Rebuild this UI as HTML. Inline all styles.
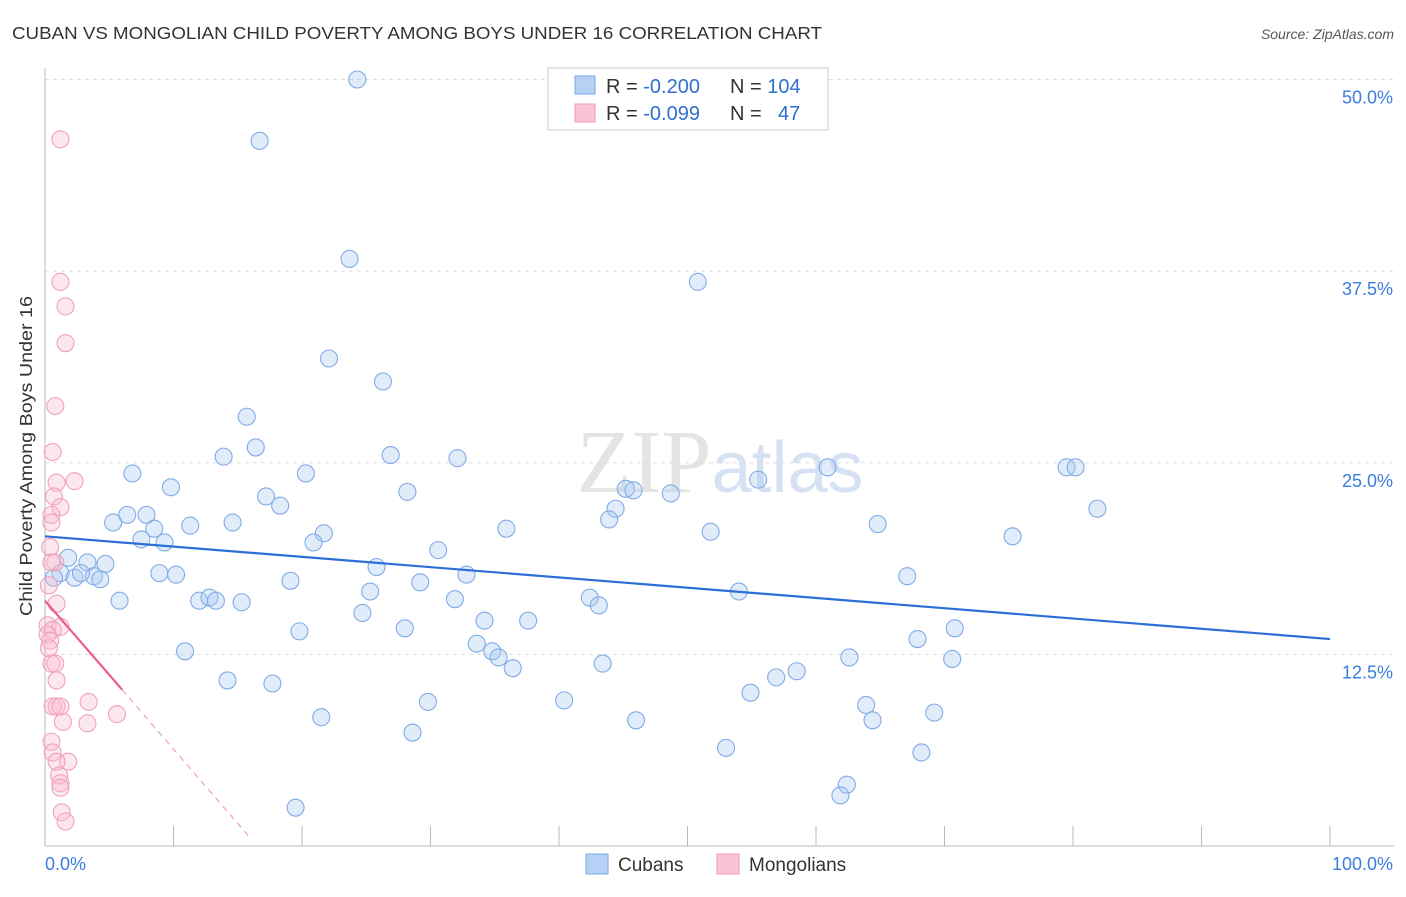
<!DOCTYPE html>
<html><head><meta charset="utf-8"><style>
body{margin:0;background:#fff;font-family:"Liberation Sans",sans-serif;}
</style></head><body>
<svg width="1406" height="892" xmlns="http://www.w3.org/2000/svg" style="font-family:'Liberation Sans',sans-serif">
<text x="12" y="39" font-size="17.5" fill="#333" textLength="810" lengthAdjust="spacingAndGlyphs">CUBAN VS MONGOLIAN CHILD POVERTY AMONG BOYS UNDER 16 CORRELATION CHART</text>
<text x="1394" y="39" font-size="14" fill="#555" text-anchor="end" font-style="italic">Source: ZipAtlas.com</text>
<text x="720" y="492" font-size="90" fill="#e4e4e4" text-anchor="middle" font-family="Liberation Serif,serif">ZIP<tspan fill="#d6e2f4" font-family="Liberation Sans,sans-serif" font-size="72">atlas</tspan></text>
<g id="grid"></g>
<g id="axes"></g>
<g id="marks"></g>
<text x="32" y="456" font-size="17.5" fill="#333" text-anchor="middle" textLength="320" lengthAdjust="spacingAndGlyphs" transform="rotate(-90 32 456)">Child Poverty Among Boys Under 16</text>
<g>
<rect x="548" y="68" width="280" height="62" fill="#fff" stroke="#ccc"/>
<rect x="575" y="76" width="20" height="18" fill="#b7d1f5" stroke="#7aa8e6"/>
<rect x="575" y="104" width="20" height="18" fill="#f9c4d4" stroke="#ee9ab3"/>
<text x="606" y="93" font-size="20" fill="#333">R = <tspan fill="#2f6fd0">-0.200</tspan><tspan x="730">N = </tspan><tspan fill="#2f6fd0">104</tspan></text>
<text x="606" y="120" font-size="20" fill="#333">R = <tspan fill="#2f6fd0">-0.099</tspan><tspan x="730">N = </tspan><tspan x="778" fill="#2f6fd0">47</tspan></text>
</g>
<g>
<rect x="586" y="854" width="22" height="20" fill="#b7d1f5" stroke="#7aa8e6"/>
<text x="618" y="871" font-size="19" fill="#333">Cubans</text>
<rect x="717" y="854" width="22" height="20" fill="#f9c4d4" stroke="#ee9ab3"/>
<text x="749" y="871" font-size="19" fill="#333">Mongolians</text>
</g>
</svg>
<script>
const cubanX=[24.3,16.7,23.7,50.8,22.1,26.3,15.7,16.4,13.9,26.9,32.1,6.8,20.3,9.8,17.2,28.2,18.3,45.2,45.8,48.7,44.4,43.9,55.5,60.9,79.5,80.2,81.9,6.4,7.9,5.3,11.3,14.6,8.5,21.7,20.9,7.5,9.3,35.9,51.8,64.8,75.3,30.6,1.8,3.3,4.7,1.2,2.3,3.8,4.3,0.7,2.8,8.9,10.2,19.1,25.8,29.2,32.8,25.3,67.1,54.0,5.8,12.0,12.8,13.3,15.3,31.9,42.4,43.1,24.7,34.2,37.6,28.0,19.8,33.6,34.8,35.3,36.4,43.4,10.9,70.8,67.9,62.6,70.6,58.5,56.9,54.9,14.2,17.7,29.8,40.4,63.9,69.2,21.5,46.0,64.4,28.6,53.0,68.2,62.4,61.9,19.5];
const cubanY=[50.0,46.0,38.3,36.8,31.8,30.3,28.0,26.0,25.4,25.5,25.3,24.3,24.3,23.4,22.8,23.1,22.2,23.3,23.2,23.0,22.0,21.3,23.9,24.7,24.7,24.7,22.0,21.6,21.6,21.1,20.9,21.1,20.7,20.4,19.8,20.0,19.8,20.7,20.5,21.0,20.2,19.3,18.8,18.5,18.4,17.8,17.5,17.6,17.4,17.5,17.8,17.8,17.7,17.3,18.2,17.2,17.7,16.6,17.6,16.6,16.0,16.0,16.2,16.0,15.9,16.1,16.2,15.7,15.2,14.7,14.7,14.2,14.0,13.2,12.7,12.3,11.6,11.9,12.7,14.2,13.5,12.3,12.2,11.4,11.0,10.0,10.8,10.6,9.4,9.5,9.2,8.7,8.4,8.2,8.2,7.4,6.4,6.1,4.0,3.3,2.5];
const mongX=[1.2,1.2,1.6,1.6,0.8,0.6,0.9,2.3,0.7,1.2,0.5,0.5,0.4,0.8,0.5,0.3,0.9,0.2,1.2,0.6,0.2,0.4,0.3,0.5,0.8,0.9,3.4,5.6,0.6,0.9,1.2,1.4,3.3,0.5,0.6,1.8,0.9,1.1,1.2,1.2,1.3,1.6];
const mongY=[46.1,36.8,35.2,32.8,28.7,25.7,23.7,23.8,22.8,22.1,21.6,21.1,19.5,18.5,18.5,17.0,15.8,14.4,14.3,14.1,13.8,13.4,12.9,11.9,11.9,10.8,9.4,8.6,9.1,9.1,9.1,8.1,8.0,6.8,6.1,5.5,5.5,4.6,4.1,3.8,2.2,1.6];
const cubanTrend=[20.2,13.5];
const mongTrend=[16.0,10.2,0.5];
const mongTrendX=[0,6,16];
const yTicks=[12.5,25,37.5,50];
const yTickLabels=["12.5%","25.0%","37.5%","50.0%"];
const xTicks=[0,10,20,30,40,50,60,70,80,90,100];

const NS="http://www.w3.org/2000/svg";
const X0=45,X1=1330,Y0=846,PPY=15.33;
const sx=v=>X0+(X1-X0)*v/100;
const sy=v=>Y0-v*PPY;
function mk(tag,attrs,parent){const e=document.createElementNS(NS,tag);for(const k in attrs)e.setAttribute(k,attrs[k]);parent.appendChild(e);return e;}
const grid=document.getElementById('grid'),axes=document.getElementById('axes'),marks=document.getElementById('marks');
yTicks.forEach((t,i)=>{
  const l=mk('line',{x1:X0,x2:1394,y1:sy(t),y2:sy(t),stroke:'#ddd','stroke-dasharray':'4,4'},grid);
  
  
  const tx=mk('text',{x:1393,y:sy(t)+24,'font-size':18,fill:'#3b7ddd','text-anchor':'end'},axes);
  tx.textContent=yTickLabels[i];
  
  
});
const ya=mk('line',{x1:X0,x2:X0,y1:68,y2:Y0,stroke:'#bbb'},axes);


const xa=mk('line',{x1:X0,x2:1394,y1:Y0,y2:Y0,stroke:'#bbb'},axes);


xTicks.forEach(t=>{
  const l=mk('line',{x1:sx(t),x2:sx(t),y1:826,y2:Y0,stroke:'#bbb'},axes);
  
  
});
[[0,"0.0%",'start',45],[100,"100.0%",'end',1393]].forEach(a=>{
  const t=mk('text',{x:a[3],y:870,'font-size':18,fill:'#3b7ddd','text-anchor':a[2]},axes);
  t.textContent=a[1];
  
  
});
cubanX.forEach((v,i)=>{
  const c=mk('circle',{cx:sx(v),cy:sy(cubanY[i]),r:8.5,fill:'rgba(170,200,242,0.35)',stroke:'#80abe6','stroke-width':1.1},marks);
  
  
});
mongX.forEach((v,i)=>{
  const c=mk('circle',{cx:sx(v),cy:sy(mongY[i]),r:8.5,fill:'rgba(248,185,205,0.35)',stroke:'#f0a2ba','stroke-width':1.1},marks);
  
  
});
const bt=mk('line',{x1:sx(0),y1:sy(cubanTrend[0]),x2:sx(100),y2:sy(cubanTrend[1]),stroke:'#2b6fd6','stroke-width':2.2},marks);


const pt=mk('line',{x1:sx(mongTrendX[0]),y1:sy(mongTrend[0]),x2:sx(mongTrendX[1]),y2:sy(mongTrend[1]),stroke:'#e9608a','stroke-width':2.2},marks);


const pd=mk('line',{x1:sx(mongTrendX[1]),y1:sy(mongTrend[1]),x2:sx(mongTrendX[2]),y2:sy(mongTrend[2]),stroke:'#eea0b8','stroke-width':1.2,'stroke-dasharray':'6,5'},marks);


</script>
</body></html>
